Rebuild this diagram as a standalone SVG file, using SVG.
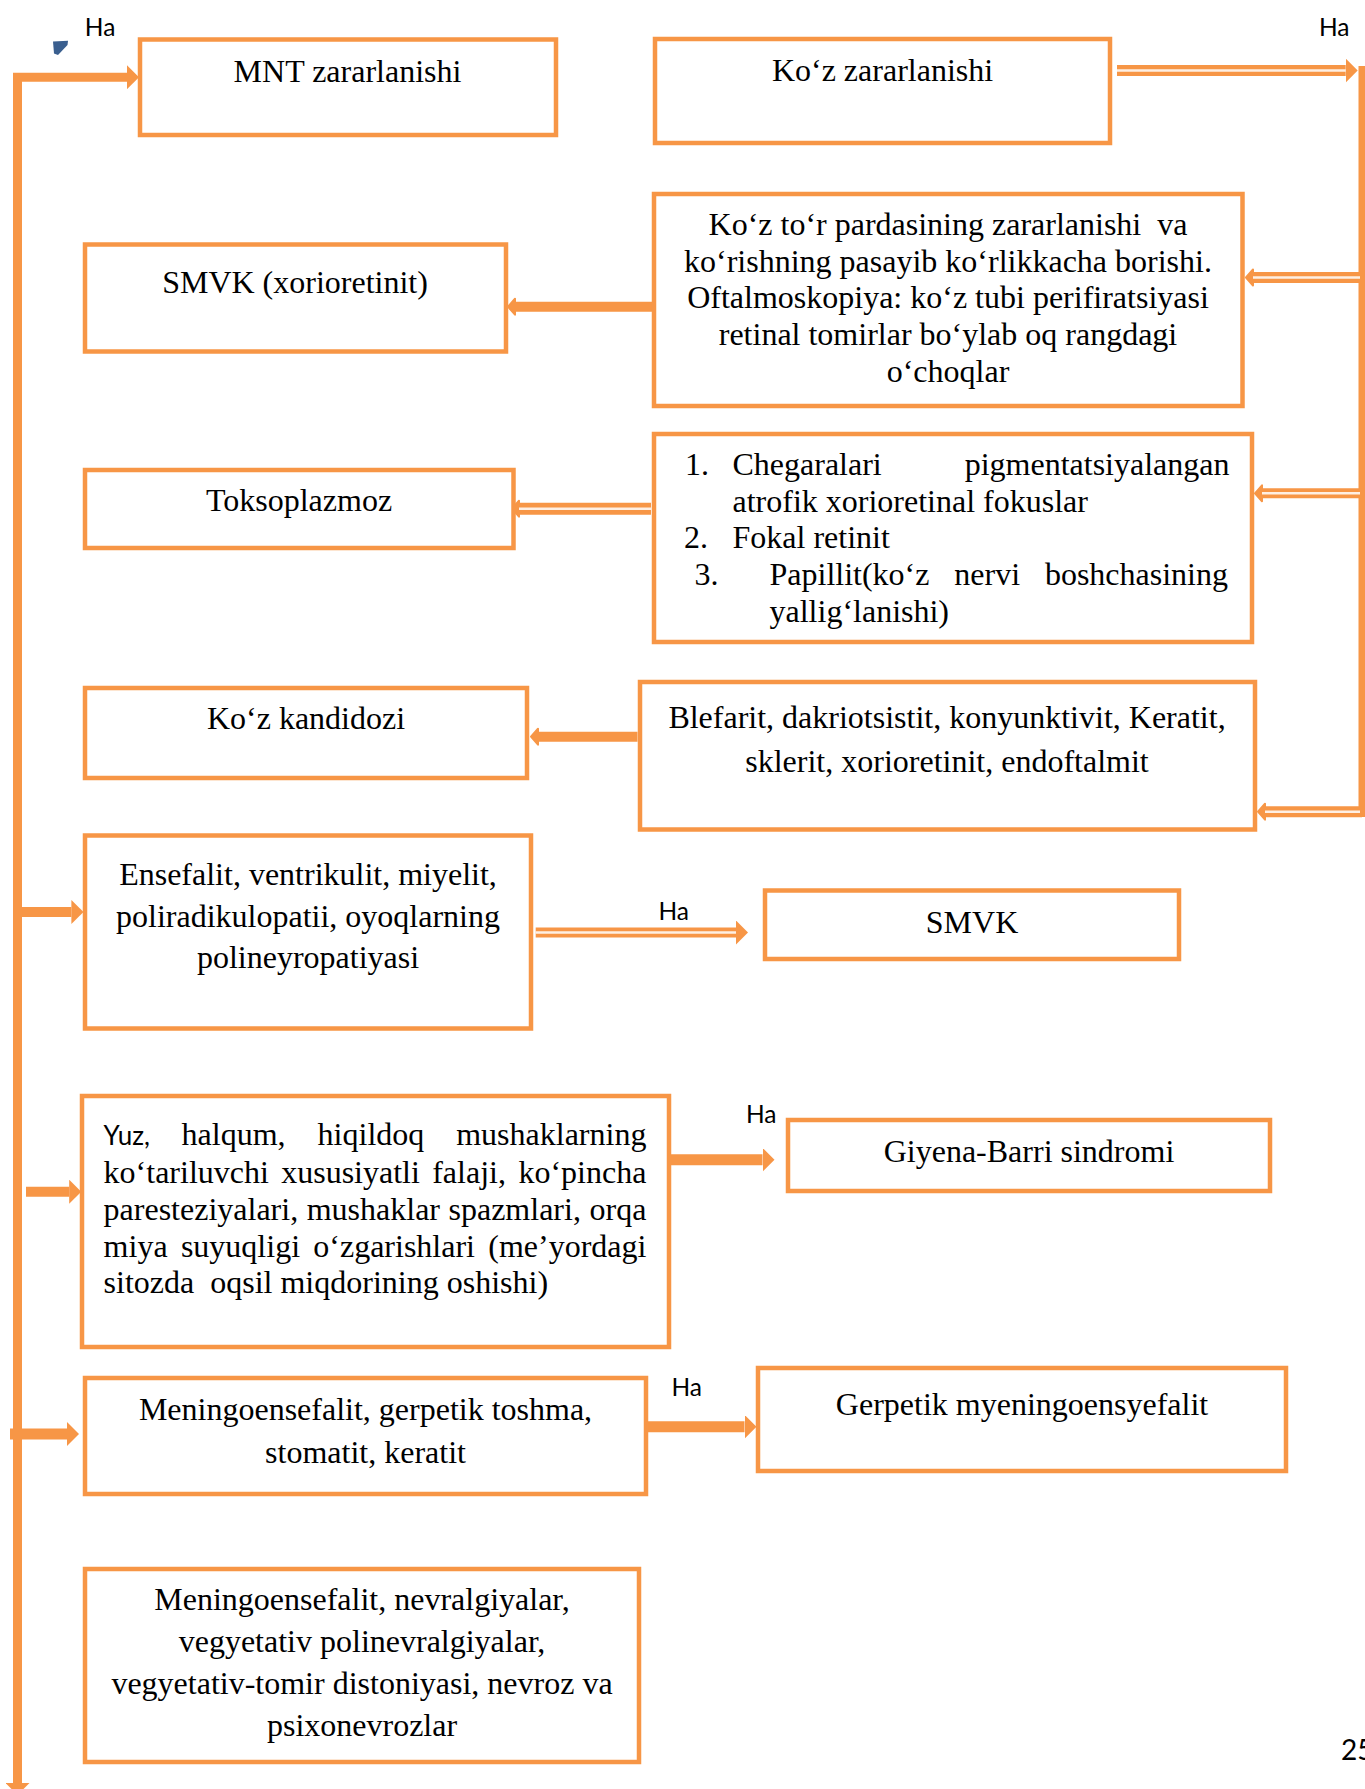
<svg xmlns="http://www.w3.org/2000/svg" width="1365" height="1789" viewBox="0 0 1365 1789">
<style>
.box{fill:#FFFFFF;stroke:#F79646;stroke-width:4.5}
.t{font-family:"Liberation Serif","Times New Roman",serif;font-size:32px;fill:#000}
.c{text-anchor:middle}
.e{text-anchor:end}
.pre{white-space:pre}
.ha{font-family:Lato,"Open Sans","Liberation Sans",sans-serif;font-size:24.5px;fill:#000}
.ln{fill:none;stroke:#F79646;stroke-linejoin:miter}
.stripe{fill:none;stroke:#FFFFFF;stroke-opacity:0.85;stroke-width:2.5}
</style>
<defs>
<marker id="headBig" markerUnits="userSpaceOnUse" markerWidth="12" markerHeight="24" viewBox="0 0 12 24" refX="0" refY="12" orient="auto-start-reverse">
<path d="M0,0 L12,12 L0,24 Z" fill="#F79646"/>
</marker>
<marker id="headSmall" markerUnits="userSpaceOnUse" markerWidth="10" markerHeight="20" viewBox="0 0 10 20" refX="1" refY="10" orient="auto">
<path d="M1,2 L8,10 L1,18 Z" fill="#F79646" stroke="#F79646" stroke-width="2" stroke-linejoin="round"/>
</marker>
</defs>
<rect x="0" y="0" width="1365" height="1789" fill="#FFFFFF"/>

<g id="connectors">
<path class="ln" d="M17.5,1783 V77.2 H127" stroke-width="9" marker-start="url(#headBig)" marker-end="url(#headBig)"/>
<path class="ln" d="M21,912 H71.4" stroke-width="10" marker-end="url(#headBig)"/>
<path class="ln" d="M26,1191.7 H69.2" stroke-width="10" marker-end="url(#headBig)"/>
<path class="ln" d="M10,1434 H67" stroke-width="11" marker-end="url(#headBig)"/>

<path class="ln" d="M1117,70.5 H1345.7" stroke-width="11" marker-end="url(#headBig)"/>
<path class="stripe" d="M1117,70.5 H1345.7"/>
<path class="ln" d="M1362,66 V817" stroke-width="7"/>

<path class="ln" d="M1362,277.5 H1253" stroke-width="11" marker-end="url(#headSmall)"/>
<path class="stripe" d="M1360,277.5 H1253"/>
<path class="ln" d="M1362,493.3 H1262" stroke-width="10" marker-end="url(#headSmall)"/>
<path class="stripe" d="M1360,493.3 H1262"/>
<path class="ln" d="M1362,811.7 H1265" stroke-width="11" marker-end="url(#headSmall)"/>
<path class="stripe" d="M1360,811.7 H1265"/>

<path class="ln" d="M656,306.7 H515" stroke-width="10" stroke-linecap="round" marker-end="url(#headSmall)"/>
<path class="ln" d="M651,508.7 H519" stroke-width="12" marker-end="url(#headSmall)"/>
<path class="stripe" d="M651,508.7 H519"/>
<path class="ln" d="M637.5,736.7 H538" stroke-width="10" marker-end="url(#headSmall)"/>

<path class="ln" d="M535.7,932.5 H736" stroke-width="10" marker-end="url(#headBig)"/>
<path class="stripe" d="M535.7,932.5 H736"/>
<path class="ln" d="M671,1159.7 H762.5" stroke-width="11" marker-end="url(#headBig)"/>
<path class="ln" d="M648,1426.7 H744.5" stroke-width="11" marker-end="url(#headBig)"/>
</g>

<g id="labels">
<polygon points="53,41.5 68,40.7 67.5,45 58,55 54,53.5" fill="#3A5F8F"/>
<text class="ha" x="84.8" y="36">Ha</text>
<text class="ha" x="1319" y="36">Ha</text>
<text class="ha" x="658.5" y="919.5">Ha</text>
<text class="ha" x="746" y="1122.8">Ha</text>
<text class="ha" x="671.4" y="1395.6">Ha</text>
<text class="ha" x="1341" y="1760" style="font-size:28px">25</text>
</g>

<g id="node-mnt">
<rect class="box" x="140" y="39.5" width="416" height="95.5"/>
<text class="t c" x="347.5" y="82.3">MNT zararlanishi</text>
</g>

<g id="node-koz">
<rect class="box" x="655" y="39" width="455" height="104"/>
<text class="t c" x="882.5" y="80.7">Ko‘z zararlanishi</text>
</g>

<g id="node-smvk-xorio">
<rect class="box" x="85" y="244.5" width="421" height="107"/>
<text class="t c" x="295" y="293.3">SMVK (xorioretinit)</text>
</g>

<g id="node-retina">
<rect class="box" x="654" y="194" width="588.5" height="212"/>
<text class="t c pre" x="948" y="235">Ko‘z to‘r pardasining zararlanishi  va</text>
<text class="t c" x="948" y="271.7">ko‘rishning pasayib ko‘rlikkacha borishi.</text>
<text class="t c" x="948" y="308.3">Oftalmoskopiya: ko‘z tubi perifiratsiyasi</text>
<text class="t c" x="948" y="345">retinal tomirlar bo‘ylab oq rangdagi</text>
<text class="t c" x="948" y="381.7">o‘choqlar</text>
</g>

<g id="node-toks">
<rect class="box" x="85" y="470" width="428.5" height="78"/>
<text class="t c" x="299" y="510.7">Toksoplazmoz</text>
</g>

<g id="node-list">
<rect class="box" x="654" y="434" width="598" height="208"/>
<text class="t" x="685" y="475">1.</text>
<text class="t" x="732.5" y="475">Chegaralari</text>
<text class="t e" x="1229.5" y="475">pigmentatsiyalangan</text>
<text class="t" x="732.5" y="511.7">atrofik xorioretinal fokuslar</text>
<text class="t" x="684" y="548.3">2.</text>
<text class="t" x="732.5" y="548.3">Fokal retinit</text>
<text class="t" x="694.5" y="585">3.</text>
<text class="t" x="769.5" y="585">Papillit(ko‘z</text>
<text class="t" x="954.3" y="585">nervi</text>
<text class="t e" x="1228" y="585">boshchasining</text>
<text class="t" x="769.5" y="621.7">yallig‘lanishi)</text>
</g>

<g id="node-kandidozi">
<rect class="box" x="85" y="688" width="442" height="90"/>
<text class="t c" x="306" y="729.3">Ko‘z kandidozi</text>
</g>

<g id="node-blefarit">
<rect class="box" x="640" y="682" width="615" height="147.5"/>
<text class="t c" x="947" y="728.3">Blefarit, dakriotsistit, konyunktivit, Keratit,</text>
<text class="t c" x="947" y="771.7">sklerit, xorioretinit, endoftalmit</text>
</g>

<g id="node-ensefalit">
<rect class="box" x="85" y="835.5" width="446" height="193"/>
<text class="t c" x="308" y="885">Ensefalit, ventrikulit, miyelit,</text>
<text class="t c" x="308" y="926.5">poliradikulopatii, oyoqlarning</text>
<text class="t c" x="308" y="968">polineyropatiyasi</text>
</g>

<g id="node-smvk">
<rect class="box" x="765" y="890.5" width="414" height="68.5"/>
<text class="t c" x="972" y="933.4">SMVK</text>
</g>

<g id="node-yuz">
<rect class="box" x="82" y="1096" width="587" height="251"/>
<text class="ha" x="103.6" y="1145" style="font-size:26px">Yuz,</text>
<text class="t" x="181.6" y="1145">halqum,</text>
<text class="t" x="317.6" y="1145">hiqildoq</text>
<text class="t e" x="646.4" y="1145">mushaklarning</text>
<text class="t" x="103.6" y="1182.7">ko‘tariluvchi</text>
<text class="t" x="281.2" y="1182.7">xususiyatli</text>
<text class="t" x="432.2" y="1182.7">falaji,</text>
<text class="t e" x="646.4" y="1182.7">ko‘pincha</text>
<text class="t" x="103.6" y="1220">paresteziyalari,</text>
<text class="t" x="306.7" y="1220">mushaklar</text>
<text class="t" x="448.5" y="1220">spazmlari,</text>
<text class="t e" x="646.4" y="1220">orqa</text>
<text class="t" x="103.6" y="1256.7">miya</text>
<text class="t" x="180.9" y="1256.7">suyuqligi</text>
<text class="t" x="313.3" y="1256.7">o‘zgarishlari</text>
<text class="t e" x="646.4" y="1256.7">(me’yordagi</text>
<text class="t pre" x="103.6" y="1293.3">sitozda  oqsil miqdorining oshishi)</text>
</g>

<g id="node-giyena">
<rect class="box" x="788" y="1120" width="482" height="71"/>
<text class="t c" x="1029" y="1162">Giyena-Barri sindromi</text>
</g>

<g id="node-meningo">
<rect class="box" x="85" y="1378" width="561" height="116"/>
<text class="t c" x="365.5" y="1420">Meningoensefalit, gerpetik toshma,</text>
<text class="t c" x="365.5" y="1462.7">stomatit, keratit</text>
</g>

<g id="node-gerpetik">
<rect class="box" x="758" y="1368" width="528" height="103"/>
<text class="t c" x="1022" y="1414.5">Gerpetik myeningoensyefalit</text>
</g>

<g id="node-last">
<rect class="box" x="85" y="1569" width="554" height="193"/>
<text class="t c" x="362" y="1610">Meningoensefalit, nevralgiyalar,</text>
<text class="t c" x="362" y="1652">vegyetativ polinevralgiyalar,</text>
<text class="t c" x="362" y="1694">vegyetativ-tomir distoniyasi, nevroz va</text>
<text class="t c" x="362" y="1736">psixonevrozlar</text>
</g>
</svg>
